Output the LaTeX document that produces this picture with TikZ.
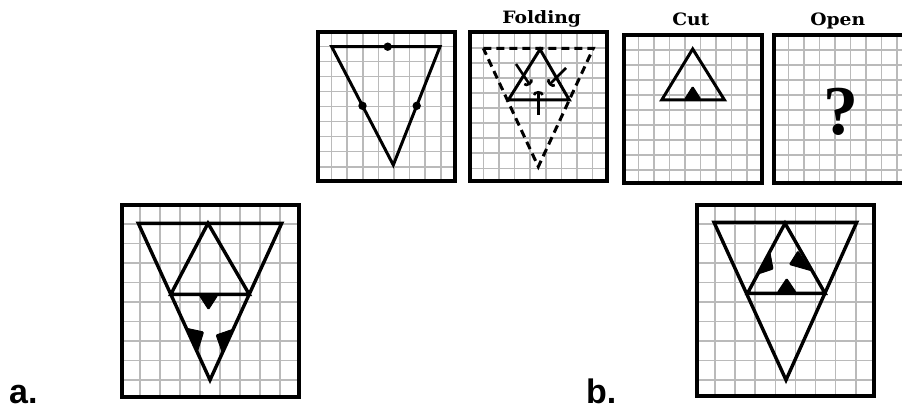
\documentclass[tikz,border=0pt]{standalone}
\usepackage{fontspec}
\usetikzlibrary{arrows.meta}
\newfontfamily\lblfont{DejaVu Serif}
\newfontfamily\qfont{Liberation Serif}
\newfontfamily\abfont{Liberation Sans}
\tikzset{
  gridline/.style={draw=black!27, line width=1.6pt},
  boxline/.style={draw=black, line width=3.4pt},
  triline/.style={draw=black, line width=3pt, line join=miter},
  bigtri/.style={draw=black, line width=3.4pt, line join=miter},
  dashtri/.style={draw=black, line width=3pt, dash pattern=on 8pt off 5pt},
  cutmark/.style={fill=black, draw=black, line width=1pt, rounded corners=1pt},
  foldarrow/.style={draw=black, line width=2.6pt, -{Arc Barb[length=4pt,width=11pt,line width=2.6pt]}},
  headlabel/.style={inner sep=0pt, anchor=base, font=\lblfont\bfseries\fontsize{17}{19}\selectfont},
  answerlabel/.style={inner sep=0pt, anchor=base west, font=\abfont\bfseries\fontsize{34}{36}\selectfont}
}
\newcommand{\mygridbox}[8]{%
  \begin{scope}
    \clip (#1,#2) rectangle (#3,#4);
    \foreach \i in {0,...,12} {\draw[gridline] ({#5+\i*#7},#2) -- ({#5+\i*#7},#4);}
    \foreach \j in {0,...,12} {\draw[gridline] (#1,{#6+\j*#8}) -- (#3,{#6+\j*#8});}
  \end{scope}
  \draw[boxline] (#1,#2) rectangle (#3,#4);
}
\begin{document}
\begin{tikzpicture}[x=1pt,y=-1pt]
\useasboundingbox (0,0) rectangle (902,409);
\clip (0,0) rectangle (902,409);

% ---------- top row ----------
\mygridbox{318}{32}{455}{181}{331.6}{46.7}{15.6}{15}
\mygridbox{470}{32}{607}{181}{483.4}{48.3}{15.6}{15}
\mygridbox{624}{35}{762}{183}{638.3}{50}{15.5}{15}
\mygridbox{774}{35}{915}{183}{788.3}{50}{15.5}{15}

% box 1: original triangle with dots
\coordinate (p1a) at (331.7,46.7);
\coordinate (p1b) at (440,46.7);
\coordinate (p1c) at (393.3,165);
\draw[triline] (p1a) -- (p1b) -- (p1c) -- cycle;
\fill (387.7,46.7) circle (4.2pt);
\fill (362.5,105.8) circle (4.2pt);
\fill (416.7,105.8) circle (4.2pt);

% box 2: folding
\coordinate (p2a) at (483.3,48.3);
\coordinate (p2b) at (593.3,48.3);
\coordinate (p2c) at (538.3,166.7);
\draw[dashtri] (p2a) -- (p2b) -- (p2c) -- cycle;
\coordinate (q2a) at (540,49.3);
\coordinate (q2b) at (508.3,100);
\coordinate (q2c) at (569.3,100);
\draw[triline] (q2a) -- (q2b) -- (q2c) -- cycle;
\coordinate (f1s) at (516,64);
\coordinate (f1e) at (530,85);
\coordinate (f2s) at (566,68);
\coordinate (f2e) at (549,85);
\coordinate (f3s) at (538.3,115);
\coordinate (f3e) at (538.3,91);
\draw[foldarrow] (f1s) -- (f1e);
\draw[foldarrow] (f2s) -- (f2e);
\draw[foldarrow] (f3s) -- (f3e);

% box 3: cut
\coordinate (c3a) at (692.7,49);
\coordinate (c3b) at (661.7,100);
\coordinate (c3c) at (724.5,100);
\draw[triline] (c3a) -- (c3b) -- (c3c) -- cycle;
\draw[cutmark] (692.7,86.5) -- (684.8,99) -- (700.6,99) -- cycle;

% box 4: open
\node[inner sep=0pt, anchor=base, font=\qfont\bfseries\fontsize{70}{72}\selectfont] (qm) at (841.3,135) {?};

% labels
\node[headlabel] (lfold) at (541.7,24) {\scalebox{1.1}[1]{Folding}};
\node[headlabel] (lcut) at (690.8,26) {\scalebox{1.1}[1]{Cut}};
\node[headlabel] (lopen) at (837.7,26) {\scalebox{1.1}[1]{Open}};

% ---------- bottom row ----------
\mygridbox{122}{205}{299}{397}{140}{224}{20}{19.5}
\mygridbox{697}{205}{874}{396}{715}{224}{20.1}{19.5}

% answer a
\coordinate (a1) at (138.3,223.3);
\coordinate (a2) at (281.7,223.3);
\coordinate (a3) at (210,380);
\draw[bigtri] (a1) -- (a2) -- (a3) -- cycle;
\coordinate (am1) at (170.8,294.3);
\coordinate (am2) at (249.2,294.3);
\coordinate (amt) at (208,223.3);
\draw[bigtri] (am1) -- (amt) -- (am2) -- cycle;
\draw[cutmark] (199.5,295.5) -- (217.5,295.5) -- (208.5,309.5) -- cycle;
\draw[cutmark] (187.5,328.5) -- (203.5,332) -- (197.2,352.5) -- cycle;
\draw[cutmark] (232.5,329.5) -- (216.2,335) -- (222.5,353) -- cycle;
\node[answerlabel] (la) at (9,403) {a.};

% answer b
\coordinate (b1) at (714,222.3);
\coordinate (b2) at (856.7,222.3);
\coordinate (b3) at (786,380);
\draw[bigtri] (b1) -- (b2) -- (b3) -- cycle;
\coordinate (bm1) at (747.5,293.3);
\coordinate (bm2) at (825,293.3);
\coordinate (bmt) at (785,223.3);
\draw[bigtri] (bm1) -- (bmt) -- (bm2) -- cycle;
\draw[cutmark] (786.7,278.5) -- (777.5,292.3) -- (796,292.3) -- cycle;
\draw[cutmark] (759.5,273.5) -- (770,253) -- (773,269) -- cycle;
\draw[cutmark] (798,251) -- (810.5,270.5) -- (789.5,264.5) -- cycle;
\node[answerlabel] (lb) at (586,403) {b.};
\end{tikzpicture}
\end{document}
